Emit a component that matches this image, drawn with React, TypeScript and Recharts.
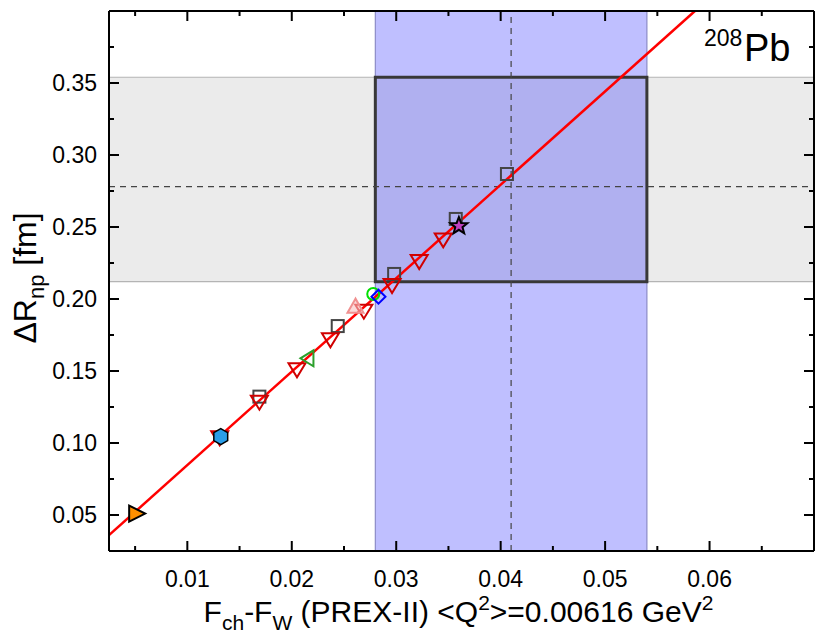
import React from "react";
import {
  ComposedChart,
  XAxis,
  YAxis,
  Scatter,
  Line,
  ReferenceArea,
  ReferenceLine,
} from "recharts";

const FONT = "'Liberation Sans', Arial, Helvetica, sans-serif";

// axis ranges and ticks
const xDomain = [0.0025, 0.07];
const yDomain = [0.025, 0.4];
const xTicks = [0.005, 0.01, 0.015, 0.02, 0.025, 0.03, 0.035, 0.04, 0.045, 0.05, 0.055, 0.06, 0.065];
const yTicks = [0.05, 0.075, 0.1, 0.125, 0.15, 0.175, 0.2, 0.225, 0.25, 0.275, 0.3, 0.325, 0.35, 0.375];

// PREX-II measurement bands
const prexF = 0.041;
const prexFLow = 0.028;
const prexFHigh = 0.054;
const prexR = 0.278;
const prexRLow = 0.212;
const prexRHigh = 0.354;

// linear fit
const fitX = [0.0025, 0.0586];
const fitY = [0.036, 0.4];

// models
const triX = [0.0131, 0.0169, 0.0205, 0.0237, 0.0269, 0.0296, 0.0322, 0.0345];
const triY = [0.104, 0.1287, 0.1512, 0.172, 0.1919, 0.2097, 0.2264, 0.2414];
const sqX = [0.0169, 0.0244, 0.0298, 0.0357, 0.0406];
const sqY = [0.1322, 0.1812, 0.2174, 0.2556, 0.2868];
const greenTriX = [0.0215];
const greenTriY = [0.1588];
const pinkTriX = [0.0261];
const pinkTriY = [0.1947];
const circleX = [0.0278];
const circleY = [0.2035];
const diamondX = [0.0283];
const diamondY = [0.2016];
const starX = [0.036];
const starY = [0.2507];
const hexX = [0.0132];
const hexY = [0.1044];
const orangeX = [0.0051];
const orangeY = [0.051];

const pts = (xs: number[], ys: number[]) => xs.map((x, i) => ({ x, y: ys[i] }));

const isMajor = (v: number, step: number) =>
  Math.abs(v / step - Math.round(v / step)) < 1e-6;

const MINOR = 5;
const MAJOR = 10;
const TICK_W = 2;

// labels come from the axes, inward tick marks are drawn as a scatter
// series sitting on the frame
function BottomLabel(props: any) {
  const { x, y, payload } = props;
  if (!isMajor(payload.value, 0.01)) return <g />;
  return (
    <text x={x} y={y + 36} textAnchor="middle" fontSize={23} fontFamily={FONT} fill="#000">
      {payload.value.toFixed(2)}
    </text>
  );
}

function LeftLabel(props: any) {
  const { x, y, payload } = props;
  if (!isMajor(payload.value, 0.05)) return <g />;
  return (
    <text x={x - 12} y={y + 8} textAnchor="end" fontSize={23} fontFamily={FONT} fill="#000">
      {payload.value.toFixed(2)}
    </text>
  );
}

const tickMark = (dir: "up" | "down" | "right" | "left", step: number, key: "x" | "y") => (p: any) => {
  const v = p.payload ? p.payload[key] : 0;
  const len = isMajor(v, step) ? MAJOR : MINOR;
  const dx = dir === "right" ? len : dir === "left" ? -len : 0;
  const dy = dir === "down" ? len : dir === "up" ? -len : 0;
  return <line x1={p.cx} y1={p.cy} x2={p.cx + dx} y2={p.cy + dy} stroke="#000" strokeWidth={TICK_W} />;
};

const bottomTicks = xTicks.map((x) => ({ x, y: yDomain[0] }));
const topTicks = xTicks.map((x) => ({ x, y: yDomain[1] }));
const leftTicks = yTicks.map((y) => ({ x: xDomain[0], y }));
const rightTicks = yTicks.map((y) => ({ x: xDomain[1], y }));

// marker shapes
const downTri = (p: any) => (
  <polygon
    points={`${p.cx - 8.5},${p.cy - 6} ${p.cx + 8.5},${p.cy - 6} ${p.cx},${p.cy + 8}`}
    fill="none"
    stroke="#d00000"
    strokeWidth={2}
  />
);
const square = (p: any) => (
  <rect x={p.cx - 6} y={p.cy - 6} width={12} height={12} fill="none" stroke="#444" strokeWidth={2} />
);
const leftTri = (p: any) => (
  <polygon
    points={`${p.cx + 6},${p.cy - 8} ${p.cx + 6},${p.cy + 8} ${p.cx - 7},${p.cy}`}
    fill="none"
    stroke="#2ca02c"
    strokeWidth={2}
  />
);
const upTri = (p: any) => (
  <polygon
    points={`${p.cx},${p.cy - 8} ${p.cx - 8},${p.cy + 6} ${p.cx + 8},${p.cy + 6}`}
    fill="#f8c0c0"
    fillOpacity={0.6}
    stroke="#f09090"
    strokeWidth={2}
  />
);
const circle = (p: any) => (
  <circle cx={p.cx} cy={p.cy} r={6} fill="none" stroke="#00e000" strokeWidth={2} />
);
const diamond = (p: any) => (
  <polygon
    points={`${p.cx},${p.cy - 7} ${p.cx + 7},${p.cy} ${p.cx},${p.cy + 7} ${p.cx - 7},${p.cy}`}
    fill="none"
    stroke="#0000ff"
    strokeWidth={2}
  />
);
const hexagon = (p: any) => {
  const r = 8;
  const pts6 = [0, 1, 2, 3, 4, 5]
    .map((k) => {
      const a = Math.PI / 6 + (Math.PI / 3) * k;
      return `${p.cx + r * Math.cos(a)},${p.cy + r * Math.sin(a)}`;
    })
    .join(" ");
  return <polygon points={pts6} fill="#2a9de8" stroke="#000" strokeWidth={1.5} />;
};
const rightTri = (p: any) => (
  <polygon
    points={`${p.cx - 7},${p.cy - 8} ${p.cx - 7},${p.cy + 8} ${p.cx + 9},${p.cy}`}
    fill="#ff9000"
    stroke="#000"
    strokeWidth={2}
  />
);
const star = (p: any) => {
  const outer = 9;
  const inner = 3.8;
  const s = Array.from({ length: 10 }, (_, k) => {
    const r = k % 2 === 0 ? outer : inner;
    const a = -Math.PI / 2 + (Math.PI / 5) * k;
    return `${p.cx + r * Math.cos(a)},${p.cy + r * Math.sin(a)}`;
  }).join(" ");
  return <polygon points={s} fill="#c040c0" stroke="#000" strokeWidth={2} />;
};

const ids = { xAxisId: "b", yAxisId: "l" };
const frame = { stroke: "#000", strokeWidth: 2 };

export default function App() {
  return (
    <div style={{ position: "absolute", left: 0, top: 0, width: 830, height: 636, background: "#fff" }}>
      <ComposedChart width={830} height={636} margin={{ top: 10, right: 15, bottom: 0, left: 0 }}>
        <XAxis
          xAxisId="b"
          dataKey="x"
          type="number"
          domain={xDomain}
          ticks={xTicks}
          interval={0}
          allowDataOverflow
          height={85}
          tickSize={0}
          tickMargin={0}
          tickLine={false}
          tick={<BottomLabel />}
          axisLine={frame}
          label={{
            content: (lp: any) => {
              const vb = lp.viewBox;
              return (
                <text
                  x={vb.x + vb.width / 2 - 3}
                  y={vb.y + 71}
                  textAnchor="middle"
                  fontSize={30}
                  fontFamily={FONT}
                  fill="#000"
                >
                  F<tspan dy={8} fontSize={21}>ch</tspan>
                  <tspan dy={-8}>-F</tspan>
                  <tspan dy={8} fontSize={21}>W</tspan>
                  <tspan dy={-8}> (PREX-II) &lt;Q</tspan>
                  <tspan dy={-12} fontSize={21}>2</tspan>
                  <tspan dy={12}>&gt;=0.00616 GeV</tspan>
                  <tspan dy={-12} fontSize={21}>2</tspan>
                </text>
              );
            },
          }}
        />
        <XAxis
          xAxisId="t"
          orientation="top"
          dataKey="x"
          type="number"
          domain={xDomain}
          allowDataOverflow
          height={1}
          tick={false}
          tickLine={false}
          axisLine={frame}
        />
        <YAxis
          yAxisId="l"
          dataKey="y"
          type="number"
          domain={yDomain}
          ticks={yTicks}
          interval={0}
          allowDataOverflow
          width={109}
          tickSize={0}
          tickMargin={0}
          tickLine={false}
          tick={<LeftLabel />}
          axisLine={frame}
          label={{
            content: () => {
              const cx = 36;
              const cy = 278;
              return (
                <text
                  x={cx}
                  y={cy}
                  textAnchor="middle"
                  fontSize={32}
                  fontFamily={FONT}
                  fill="#000"
                  transform={`rotate(-90 ${cx} ${cy})`}
                >
                  ΔR<tspan dy={8} fontSize={22}>np</tspan>
                  <tspan dy={-8}> [fm]</tspan>
                </text>
              );
            },
          }}
        />
        <YAxis
          yAxisId="r"
          orientation="right"
          dataKey="y"
          type="number"
          domain={yDomain}
          allowDataOverflow
          width={1}
          tick={false}
          tickLine={false}
          axisLine={frame}
        />

        <ReferenceArea {...ids} y1={prexRLow} y2={prexRHigh} fill="#ebebeb" fillOpacity={1} stroke="#b4b4b4" strokeWidth={1.2} />
        <ReferenceArea {...ids} x1={prexFLow} x2={prexFHigh} fill="#0000ff" fillOpacity={0.25} stroke="#8c8cc8" strokeWidth={1.2} />
        <ReferenceArea
          {...ids}
          x1={prexFLow}
          x2={prexFHigh}
          y1={prexRLow}
          y2={prexRHigh}
          fill="none"
          fillOpacity={0}
          stroke="#383838"
          strokeWidth={3}
          strokeOpacity={1}
        />
        <ReferenceLine {...ids} x={prexF} stroke="#444" strokeWidth={1.2} strokeDasharray="6 5" />
        <ReferenceLine {...ids} y={prexR} stroke="#444" strokeWidth={1.2} strokeDasharray="6 5" />

        <Scatter {...ids} data={bottomTicks} dataKey="y" shape={tickMark("up", 0.01, "x")} isAnimationActive={false} />
        <Scatter {...ids} data={topTicks} dataKey="y" shape={tickMark("down", 0.01, "x")} isAnimationActive={false} />
        <Scatter {...ids} data={leftTicks} dataKey="y" shape={tickMark("right", 0.05, "y")} isAnimationActive={false} />
        <Scatter {...ids} data={rightTicks} dataKey="y" shape={tickMark("left", 0.05, "y")} isAnimationActive={false} />

        <Scatter {...ids} data={pts(sqX, sqY)} dataKey="y" shape={square} isAnimationActive={false} />
        <Scatter {...ids} data={pts(triX, triY)} dataKey="y" shape={downTri} isAnimationActive={false} />
        <Scatter {...ids} data={pts(greenTriX, greenTriY)} dataKey="y" shape={leftTri} isAnimationActive={false} />
        <Scatter {...ids} data={pts(pinkTriX, pinkTriY)} dataKey="y" shape={upTri} isAnimationActive={false} />
        <Scatter {...ids} data={pts(circleX, circleY)} dataKey="y" shape={circle} isAnimationActive={false} />
        <Scatter {...ids} data={pts(diamondX, diamondY)} dataKey="y" shape={diamond} isAnimationActive={false} />
        <Scatter {...ids} data={pts(orangeX, orangeY)} dataKey="y" shape={rightTri} isAnimationActive={false} />

        <Line
          {...ids}
          data={pts(fitX, fitY)}
          dataKey="y"
          type="linear"
          stroke="#ff0000"
          strokeWidth={2.5}
          dot={false}
          activeDot={false}
          isAnimationActive={false}
        />

        <Scatter {...ids} data={pts(hexX, hexY)} dataKey="y" shape={hexagon} isAnimationActive={false} />
        <Scatter {...ids} data={pts(starX, starY)} dataKey="y" shape={star} isAnimationActive={false} />
      </ComposedChart>
      <svg
        width={830}
        height={636}
        style={{ position: "absolute", left: 0, top: 0, pointerEvents: "none" }}
      >
        <text x={704} y={46} fontSize={23} fontFamily={FONT} fill="#000">
          208
        </text>
        <text x={744} y={61} fontSize={38} fontFamily={FONT} fill="#000">
          Pb
        </text>
      </svg>
    </div>
  );
}
